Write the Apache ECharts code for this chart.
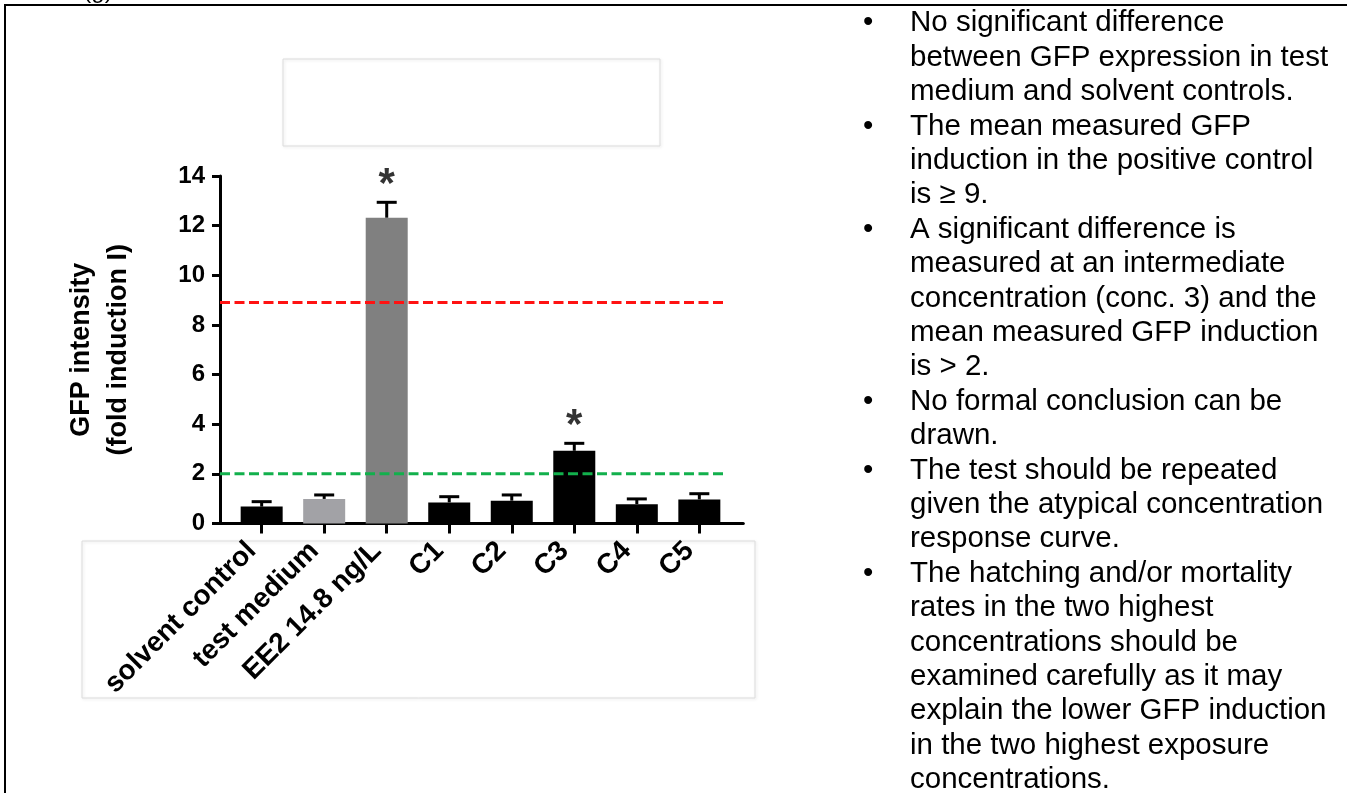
<!DOCTYPE html>
<html>
<head>
<meta charset="utf-8">
<title>GFP intensity</title>
<script src="https://cdn.jsdelivr.net/npm/echarts@6/dist/echarts.min.js"></script>
<style>
  html, body { margin: 0; padding: 0; background: #fff; }
  #chart { width: 1347px; height: 793px; }
</style>
</head>
<body>
<div id="chart"></div>
<script>
// x axis groups
const categories = ['solvent control', 'test medium', 'EE2 14.8 ng/L', 'C1', 'C2', 'C3', 'C4', 'C5'];
// mean GFP fold induction and upper error
const means = [0.68, 0.99, 12.32, 0.85, 0.92, 2.93, 0.78, 0.97];
const errors = [0.20, 0.16, 0.62, 0.23, 0.23, 0.30, 0.21, 0.23];
// groups marked with *
const significant = [false, false, true, false, false, true, false, false];
const barColors = ['#000000', '#a2a2a6', '#808080', '#000000', '#000000', '#000000', '#000000', '#000000'];
// dashed criteria lines (positive control >= 9, induction > 2)
const thresholds = [8.9, 2];
const thresholdColors = ['#ff1212', '#12b04c'];
const yTicks = [0, 2, 4, 6, 8, 10, 12, 14];

// bullet notes on the right, one entry per bullet, one string per printed line
const notes = [
  ['No significant difference', 'between GFP expression in test', 'medium and solvent controls.'],
  ['The mean measured GFP', 'induction in the positive control', 'is \u2265 9.'],
  ['A significant difference is', 'measured at an intermediate', 'concentration (conc. 3) and the', 'mean measured GFP induction', 'is > 2.'],
  ['No formal conclusion can be', 'drawn.'],
  ['The test should be repeated', 'given the atypical concentration', 'response curve.'],
  ['The hatching and/or mortality', 'rates in the two highest', 'concentrations should be', 'examined carefully as it may', 'explain the lower GFP induction', 'in the two highest exposure', 'concentrations.']
];

const FONT = '"Liberation Sans", Arial, Helvetica, sans-serif';

// plot box (px)
const plotTop = 176, plotBottom = 523.5;
const axisLeft = 220, axisRight = 743.3;
const bandLeft = 230.4, bandRight = 730.6;
const lineEnd = (725 - axisLeft) / (axisRight - axisLeft);

const chart = echarts.init(document.getElementById('chart'));

// right hand text
const noteLineH = 34.4, noteTop = 6;
let graphics = [];
let lineIdx = 0;
notes.forEach(function (lines) {
  const y = noteTop + lineIdx * noteLineH;
  graphics.push({
    type: 'text', left: 863, top: y, z: 10,
    style: { text: '\u2022', fontSize: 29.5, fontFamily: FONT, fill: '#000', lineHeight: noteLineH }
  });
  graphics.push({
    type: 'text', left: 910, top: y, z: 10,
    style: { text: lines.join('\n'), fontSize: 29.5, fontFamily: FONT, fill: '#000', lineHeight: noteLineH }
  });
  lineIdx += lines.length;
});

// frame, panel letter and the faint boxes
graphics.push(
  { type: 'line', shape: { x1: 4, y1: 5, x2: 1347, y2: 5 }, style: { stroke: '#000', lineWidth: 2 }, z: 10 },
  { type: 'line', shape: { x1: 5, y1: 4, x2: 5, y2: 793 }, style: { stroke: '#000', lineWidth: 2 }, z: 10 },
  { type: 'text', x: 98, y: 3, style: { text: '(g)', fontSize: 24, fontFamily: FONT, fill: '#000', align: 'center', verticalAlign: 'bottom' } },
  { type: 'rect', z: -1, shape: { x: 283, y: 59, width: 377, height: 87 },
    style: { fill: 'none', stroke: '#dcdcdc', lineWidth: 1, shadowBlur: 3, shadowColor: 'rgba(0,0,0,0.12)', shadowOffsetX: 1, shadowOffsetY: 1 } },
  { type: 'rect', z: -1, shape: { x: 82, y: 541, width: 673, height: 157 },
    style: { fill: 'none', stroke: '#dcdcdc', lineWidth: 1, shadowBlur: 3, shadowColor: 'rgba(0,0,0,0.12)', shadowOffsetX: 1, shadowOffsetY: 1 } }
);

const yMin = yTicks[0], yMax = yTicks[yTicks.length - 1], yStep = yTicks[1] - yTicks[0];

let series = [
  {
    type: 'bar',
    xAxisIndex: 0, yAxisIndex: 0,
    barWidth: 42,
    data: means.map(function (v, i) { return { value: v, itemStyle: { color: barColors[i] } }; }),
    z: 2
  },
  {
    // upper error bars
    type: 'custom',
    xAxisIndex: 0, yAxisIndex: 0,
    data: means.map(function (m, i) { return [i, m, m + errors[i]]; }),
    encode: { x: 0, y: [1, 2] },
    renderItem: function (params, api) {
      const base = api.coord([api.value(0), api.value(1)]);
      const top = api.coord([api.value(0), api.value(2)]);
      return {
        type: 'group',
        children: [
          { type: 'line', shape: { x1: top[0], y1: base[1], x2: top[0], y2: top[1] }, style: { stroke: '#000', lineWidth: 3 } },
          { type: 'line', shape: { x1: top[0] - 10, y1: top[1], x2: top[0] + 10, y2: top[1] }, style: { stroke: '#000', lineWidth: 3 } }
        ]
      };
    },
    z: 3
  },
  {
    // significance stars
    type: 'scatter',
    xAxisIndex: 0, yAxisIndex: 0,
    symbolSize: 1,
    itemStyle: { color: 'rgba(0,0,0,0)' },
    data: means.map(function (m, i) { return significant[i] ? [i, m + errors[i]] : null; }).filter(Boolean),
    label: { show: true, position: 'top', distance: -5, formatter: '*', fontSize: 42, fontWeight: 'bold', color: '#000', fontFamily: FONT },
    z: 4
  }
];

thresholds.forEach(function (t, k) {
  series.push({
    type: 'line',
    xAxisIndex: 1, yAxisIndex: 1,
    data: [[0, t], [lineEnd, t]],
    symbol: 'none',
    lineStyle: { color: thresholdColors[k], width: 3, type: [10, 4.5] },
    z: 5
  });
});

const option = {
  animation: false,
  backgroundColor: '#fff',
  textStyle: { fontFamily: FONT },
  graphic: graphics,
  grid: [
    { left: bandLeft, right: 1347 - bandRight, top: plotTop, bottom: 793 - plotBottom, outerBoundsMode: 'none' },
    { left: axisLeft, right: 1347 - axisRight, top: plotTop, bottom: 793 - plotBottom, outerBoundsMode: 'none' }
  ],
  xAxis: [
    {
      type: 'category', gridIndex: 0, data: categories,
      axisLine: { show: false },
      axisTick: { show: true, alignWithLabel: true, interval: 0, length: 10, lineStyle: { color: '#000', width: 3 } },
      axisLabel: { interval: 0, rotate: 45, margin: 33, align: 'right', verticalAlign: 'bottom', color: '#000', fontWeight: 'bold', fontSize: 28, fontFamily: FONT },
      splitLine: { show: false }
    },
    {
      type: 'value', gridIndex: 1, min: 0, max: 1,
      axisLine: { show: true, lineStyle: { color: '#000', width: 3 } },
      axisTick: { show: false }, axisLabel: { show: false }, splitLine: { show: false }
    }
  ],
  yAxis: [
    { type: 'value', gridIndex: 0, min: yMin, max: yMax, interval: yStep, show: false },
    {
      type: 'value', gridIndex: 1, min: yMin, max: yMax, interval: yStep,
      axisLine: { show: true, lineStyle: { color: '#000', width: 3 } },
      axisTick: { show: true, length: 8, lineStyle: { color: '#000', width: 3 } },
      axisLabel: { margin: 15, color: '#000', fontWeight: 'bold', fontSize: 24, fontFamily: FONT },
      splitLine: { show: false },
      name: 'GFP intensity\n(fold induction I)',
      nameLocation: 'middle', nameRotate: 90, nameGap: 83,
      nameTextStyle: { color: '#000', fontWeight: 'bold', fontSize: 27, lineHeight: 37, fontFamily: FONT }
    }
  ],
  series: series
};

chart.setOption(option);
</script>
</body>
</html>
